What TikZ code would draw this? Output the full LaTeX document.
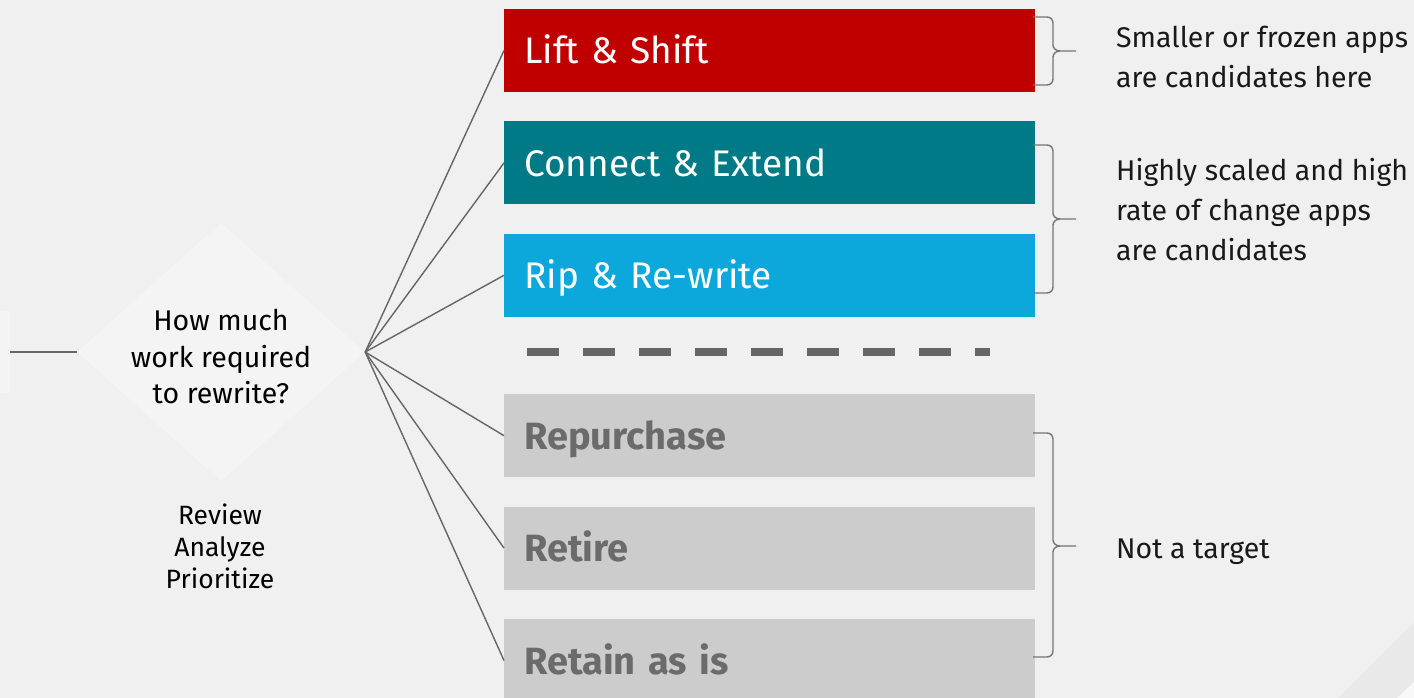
\documentclass[tikz,border=0pt]{standalone}
\usepackage{fontspec}
\setmainfont{Fira Sans}
\usetikzlibrary{positioning,shapes.geometric}

\definecolor{bgcol}{HTML}{F0F0F0}
\definecolor{liftred}{HTML}{C00000}
\definecolor{connteal}{HTML}{007A87}
\definecolor{ripblue}{HTML}{0CA8DB}
\definecolor{greybox}{HTML}{CCCCCC}
\definecolor{greytext}{HTML}{6B6B6B}
\definecolor{linegrey}{HTML}{666666}

\newcommand\sidebrace[3]{%
  \draw[bracket] (1033,#1) -- (1047,#1) to[out=0,in=90] (1053,#1+6) -- (1053,#2-6)
    to[out=-90,in=180] (1060,#2) -- (1076,#2)
    (1060,#2) to[out=180,in=90] (1053,#2+6) -- (1053,#3-6)
    to[out=-90,in=0] (1047,#3) -- (1033,#3);}

\begin{document}
\begin{tikzpicture}[x=1pt, y=-1pt,
				option/.style = {minimum width=531pt, minimum height=83pt, inner ysep=0pt, inner xsep=20pt,
					text width=491pt, align=left, text height=27pt, text depth=0pt,
					font=\fontsize{37}{37}\selectfont},
				movebox/.style = {option, fill=#1, text=white},
				skipbox/.style = {option, fill=greybox, text=greytext, font=\fontsize{38}{38}\selectfont\bfseries},
				fan/.style = {draw=linegrey, line width=1.4pt},
				bracket/.style = {draw=linegrey!90, line width=1.4pt},
				note/.style = {anchor=west, inner sep=0pt, align=left, text=black!90, font=\fontsize{28.5}{40}\selectfont},
				node distance=29pt
			]
			% background
			\fill[bgcol] (0,0) rectangle (1414,698);
			\useasboundingbox (0,0) rectangle (1414,698);
			\fill[white!25!bgcol] (0,311) rectangle (10,393);
			\fill[black!3!bgcol] (1338,698) -- (1414,623) -- (1414,682) -- (1397,698) -- cycle;
			\fill[white!50!bgcol] (1397,698) -- (1414,682) -- (1414,698) -- cycle;

			% question
			\node[diamond, fill=white!25!bgcol, minimum width=288pt, minimum height=259pt, inner sep=0pt] (question) at (221,352) {};
			\node[align=center, font=\fontsize{28.5}{36.5}\selectfont] (questiontext) at (221,357) {How much\\work required\\to rewrite?};
			\node[align=center, font=\fontsize{26.5}{32}\selectfont] (review) at (220,546) {Review\\Analyze\\Prioritize};
			\coordinate (stub) at (10,352);
			\draw[fan] (stub) -- (question.west);

			% options
			\node[movebox=liftred, anchor=west] (lift) at (504,50.5) {Lift \& Shift};
			\node[movebox=connteal, below=of lift] (connect) {Connect \& Extend};
			\node[movebox=ripblue, below=of connect] (rip) {Rip \& Re-write};
			\node[skipbox, below=77pt of rip] (repurchase) {Repurchase};
			\node[skipbox, below=of repurchase] (retire) {Retire};
			\node[skipbox, below=of retire] (retain) {Retain as is};

			% divider
			\coordinate (divleft) at (527,352);
			\coordinate (divright) at (990,352);
			\draw[linegrey, line width=8pt, dash pattern=on 32pt off 24pt] (divleft) -- (divright);

			\foreach \target in {lift,connect,rip,repurchase,retire,retain}
				\draw[fan] (question.east) -- (\target.west);

			% braces and notes
			\sidebrace{17}{51}{85}
			\sidebrace{145}{219}{293}
			\sidebrace{433}{546}{657}
			\node[note] (frozen) at (1116,57) {Smaller or frozen apps\\are candidates here};
			\node[note] (scaled) at (1116,210) {Highly scaled and high\\rate of change apps\\are candidates};
			\node[note] (notarget) at (1116,552) {Not a target};
		\end{tikzpicture}
\end{document}
